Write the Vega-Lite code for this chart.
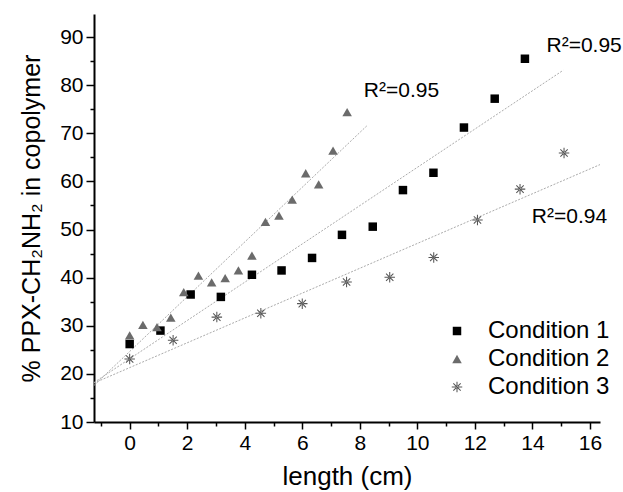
{
  "$schema": "https://vega.github.io/schema/vega-lite/v6.json",
  "width": 506,
  "height": 408,
  "autosize": {"type": "none"},
  "padding": {"left": 94, "top": 14, "right": 23, "bottom": 70},
  "background": "white",
  "config": {
    "view": {"stroke": null},
    "font": "Liberation Sans",
    "axis": {
      "grid": false,
      "domainColor": "black",
      "domainWidth": 2,
      "tickColor": "black",
      "tickWidth": 1.5,
      "labelFont": "Liberation Sans",
      "labelFontSize": 21,
      "labelColor": "black",
      "titleFont": "Liberation Sans",
      "titleFontWeight": "normal",
      "titleColor": "black"
    },
    "legend": {
      "labelFont": "Liberation Sans",
      "labelFontSize": 24,
      "labelColor": "black"
    }
  },
  "encoding": {
    "x": {"field": "x", "type": "quantitative", "scale": {"domain": [-1.24, 16.35], "nice": false, "zero": false},
      "axis": {
        "title": "length (cm)",
        "titleFontSize": 26,
        "titlePadding": 10,
        "labelOverlap": false,
        "labelFlush": false,
        "values": [-1, 0, 1, 2, 3, 4, 5, 6, 7, 8, 9, 10, 11, 12, 13, 14, 15, 16],
        "labelExpr": "datum.value % 2 == 0 ? datum.label : ''",
        "tickSize": {"condition": {"test": "datum.value % 2 == 0", "value": 7}, "value": 4},
        "labelPadding": 3
      }},
    "y": {"field": "y", "type": "quantitative", "scale": {"domain": [10, 94.8], "nice": false, "zero": false},
      "axis": {
        "title": "% PPX-CH₂NH₂ in copolymer",
        "titleFontSize": 25,
        "titlePadding": 15,
        "labelOverlap": false,
        "labelFlush": false,
        "values": [10, 15, 20, 25, 30, 35, 40, 45, 50, 55, 60, 65, 70, 75, 80, 85, 90],
        "labelExpr": "datum.value % 10 == 0 ? datum.label : ''",
        "tickSize": {"condition": {"test": "datum.value % 10 == 0", "value": 8}, "value": 4},
        "labelPadding": 3
      }}
  },
  "layer": [
    {
      "data": {
        "values": [
          {"cond": "Condition 1", "x": -1.24, "y": 18.2},
          {"cond": "Condition 1", "x": 15.07, "y": 83.1},
          {"cond": "Condition 2", "x": -1.24, "y": 17.6},
          {"cond": "Condition 2", "x": 8.27, "y": 71.7},
          {"cond": "Condition 3", "x": -1.24, "y": 18.1},
          {"cond": "Condition 3", "x": 16.35, "y": 63.5}
        ]
      },
      "mark": {"type": "line", "color": "#ababab", "strokeWidth": 1, "strokeDash": [2, 1.5], "clip": true},
      "encoding": {
        "detail": {"field": "cond", "type": "nominal"}
      }
    },
    {
      "data": {
        "values": [
          {"cond": "Condition 1", "x": 0, "y": 26.2},
          {"cond": "Condition 1", "x": 1.07, "y": 29.0},
          {"cond": "Condition 1", "x": 2.12, "y": 36.5},
          {"cond": "Condition 1", "x": 3.17, "y": 36.0},
          {"cond": "Condition 1", "x": 4.25, "y": 40.6},
          {"cond": "Condition 1", "x": 5.28, "y": 41.5},
          {"cond": "Condition 1", "x": 6.34, "y": 44.1},
          {"cond": "Condition 1", "x": 7.38, "y": 48.9},
          {"cond": "Condition 1", "x": 8.45, "y": 50.6},
          {"cond": "Condition 1", "x": 9.5, "y": 58.2},
          {"cond": "Condition 1", "x": 10.56, "y": 61.8},
          {"cond": "Condition 1", "x": 11.62, "y": 71.2},
          {"cond": "Condition 1", "x": 12.69, "y": 77.2},
          {"cond": "Condition 1", "x": 13.74, "y": 85.5},
          {"cond": "Condition 2", "x": 0, "y": 28.0},
          {"cond": "Condition 2", "x": 0.46, "y": 30.2},
          {"cond": "Condition 2", "x": 0.95, "y": 29.7},
          {"cond": "Condition 2", "x": 1.43, "y": 31.7},
          {"cond": "Condition 2", "x": 1.88, "y": 37.0},
          {"cond": "Condition 2", "x": 2.39, "y": 40.4},
          {"cond": "Condition 2", "x": 2.85, "y": 39.0},
          {"cond": "Condition 2", "x": 3.32, "y": 39.9},
          {"cond": "Condition 2", "x": 3.78, "y": 41.5},
          {"cond": "Condition 2", "x": 4.25, "y": 44.6},
          {"cond": "Condition 2", "x": 4.72, "y": 51.6},
          {"cond": "Condition 2", "x": 5.19, "y": 52.9},
          {"cond": "Condition 2", "x": 5.65, "y": 56.2},
          {"cond": "Condition 2", "x": 6.12, "y": 61.7},
          {"cond": "Condition 2", "x": 6.57, "y": 59.4},
          {"cond": "Condition 2", "x": 7.07, "y": 66.4},
          {"cond": "Condition 2", "x": 7.56, "y": 74.4},
          {"cond": "Condition 3", "x": 0, "y": 23.1},
          {"cond": "Condition 3", "x": 1.51, "y": 27.0},
          {"cond": "Condition 3", "x": 3.03, "y": 31.8},
          {"cond": "Condition 3", "x": 4.56, "y": 32.6},
          {"cond": "Condition 3", "x": 6.0, "y": 34.6},
          {"cond": "Condition 3", "x": 7.54, "y": 39.1},
          {"cond": "Condition 3", "x": 9.04, "y": 40.1},
          {"cond": "Condition 3", "x": 10.57, "y": 44.2},
          {"cond": "Condition 3", "x": 12.09, "y": 52.0},
          {"cond": "Condition 3", "x": 13.57, "y": 58.4},
          {"cond": "Condition 3", "x": 15.1, "y": 65.9}
        ]
      },
      "mark": {"type": "point", "filled": true, "opacity": 1, "strokeWidth": 0},
      "encoding": {
        "color": {
          "field": "cond", "type": "nominal",
          "scale": {"domain": ["Condition 1", "Condition 2", "Condition 3"], "range": ["#000000", "#6b6b6b", "#555555"]},
          "legend": {
            "title": null,
            "orient": "none",
            "legendX": 351,
            "legendY": 305,
            "padding": 0,
            "symbolSize": 80,
            "symbolStrokeWidth": 0,
            "symbolOpacity": 1,
            "labelOffset": 19,
            "rowPadding": 4,
            "labelBaseline": "middle"
          }
        },
        "shape": {
          "field": "cond", "type": "nominal",
          "scale": {"domain": ["Condition 1", "Condition 2", "Condition 3"],
            "range": ["square", "triangle-up", "M-1,-0.1L1,-0.1L1,0.1L-1,0.1Z M-0.1,-1L0.1,-1L0.1,1L-0.1,1Z M-0.63,-0.77L0.77,0.63L0.63,0.77L-0.77,-0.63Z M-0.63,0.77L0.77,-0.63L0.63,-0.77L-0.77,0.63Z"]},
          "legend": {"title": null}
        },
        "size": {
          "field": "cond", "type": "nominal",
          "scale": {"domain": ["Condition 1", "Condition 2", "Condition 3"], "range": [72, 110, 115]},
          "legend": null
        }
      }
    },
    {
      "data": {
        "values": [
          {"label": "R²=0.95", "x": 8.14, "y": 78.7},
          {"label": "R²=0.95", "x": 14.49, "y": 88.2},
          {"label": "R²=0.94", "x": 13.98, "y": 52.7}
        ]
      },
      "mark": {"type": "text", "align": "left", "baseline": "middle", "fontSize": 21, "font": "Liberation Sans", "color": "black", "clip": false},
      "encoding": {
        "text": {"field": "label", "type": "nominal"}
      }
    }
  ]
}
